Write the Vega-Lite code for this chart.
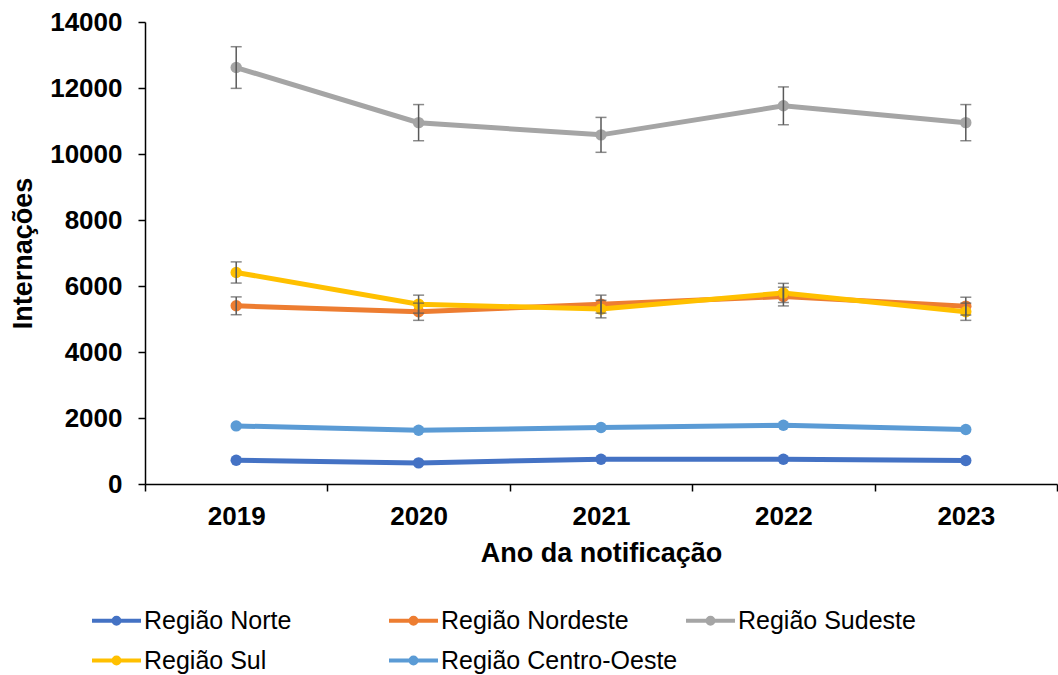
{
  "$schema": "https://vega.github.io/schema/vega-lite/v6.json",
  "width": 912,
  "height": 462,
  "autosize": {"type": "none"},
  "padding": {"left": 145, "top": 22, "right": 1, "bottom": 191},
  "background": "white",
  "config": {
    "font": "Liberation Sans",
    "view": {"stroke": null},
    "axis": {
      "labelFont": "Liberation Sans",
      "titleFont": "Liberation Sans",
      "labelFontWeight": "bold",
      "titleFontWeight": "bold",
      "labelColor": "#000000",
      "titleColor": "#000000",
      "domainColor": "#000000",
      "tickColor": "#000000",
      "domainWidth": 1.5,
      "tickWidth": 1.5,
      "grid": false
    }
  },
  "datasets": {
    "series": [
      {"region": "Região Norte", "year": "2019", "value": 720},
      {"region": "Região Norte", "year": "2020", "value": 640},
      {"region": "Região Norte", "year": "2021", "value": 750},
      {"region": "Região Norte", "year": "2022", "value": 750},
      {"region": "Região Norte", "year": "2023", "value": 710},
      {"region": "Região Nordeste", "year": "2019", "value": 5400},
      {"region": "Região Nordeste", "year": "2020", "value": 5220},
      {"region": "Região Nordeste", "year": "2021", "value": 5450},
      {"region": "Região Nordeste", "year": "2022", "value": 5680},
      {"region": "Região Nordeste", "year": "2023", "value": 5390},
      {"region": "Região Sudeste", "year": "2019", "value": 12620},
      {"region": "Região Sudeste", "year": "2020", "value": 10950},
      {"region": "Região Sudeste", "year": "2021", "value": 10580},
      {"region": "Região Sudeste", "year": "2022", "value": 11460},
      {"region": "Região Sudeste", "year": "2023", "value": 10950},
      {"region": "Região Sul", "year": "2019", "value": 6410},
      {"region": "Região Sul", "year": "2020", "value": 5450},
      {"region": "Região Sul", "year": "2021", "value": 5300},
      {"region": "Região Sul", "year": "2022", "value": 5790},
      {"region": "Região Sul", "year": "2023", "value": 5220},
      {"region": "Região Centro-Oeste", "year": "2019", "value": 1760},
      {"region": "Região Centro-Oeste", "year": "2020", "value": 1630},
      {"region": "Região Centro-Oeste", "year": "2021", "value": 1710},
      {"region": "Região Centro-Oeste", "year": "2022", "value": 1780},
      {"region": "Região Centro-Oeste", "year": "2023", "value": 1650}
    ],
    "err": [
      {"region": "Região Nordeste", "year": "2019", "lo": 5130, "hi": 5670},
      {"region": "Região Nordeste", "year": "2020", "lo": 4959, "hi": 5481},
      {"region": "Região Nordeste", "year": "2021", "lo": 5177, "hi": 5723},
      {"region": "Região Nordeste", "year": "2022", "lo": 5396, "hi": 5964},
      {"region": "Região Nordeste", "year": "2023", "lo": 5120, "hi": 5660},
      {"region": "Região Sudeste", "year": "2019", "lo": 11989, "hi": 13251},
      {"region": "Região Sudeste", "year": "2020", "lo": 10402, "hi": 11498},
      {"region": "Região Sudeste", "year": "2021", "lo": 10051, "hi": 11109},
      {"region": "Região Sudeste", "year": "2022", "lo": 10887, "hi": 12033},
      {"region": "Região Sudeste", "year": "2023", "lo": 10402, "hi": 11498},
      {"region": "Região Sul", "year": "2019", "lo": 6089, "hi": 6731},
      {"region": "Região Sul", "year": "2020", "lo": 5177, "hi": 5723},
      {"region": "Região Sul", "year": "2021", "lo": 5035, "hi": 5565},
      {"region": "Região Sul", "year": "2022", "lo": 5500, "hi": 6080},
      {"region": "Região Sul", "year": "2023", "lo": 4959, "hi": 5481}
    ]
  },
  "layer": [
    {
      "data": {"name": "series"},
      "mark": {"type": "line", "strokeWidth": 5, "point": {"filled": true, "size": 130, "opacity": 1}},
      "encoding": {
        "x": {
          "field": "year",
          "type": "ordinal",
          "title": "Ano da notificação",
          "scale": {"paddingInner": 0, "paddingOuter": 0},
          "axis": {
            "labelAngle": 0,
            "labelFontSize": 26,
            "titleFontSize": 27,
            "tickBand": "extent",
            "tickSize": 7,
            "labelPadding": 12,
            "titlePadding": 11
          }
        },
        "y": {
          "field": "value",
          "type": "quantitative",
          "title": "Internações",
          "scale": {"domain": [0, 14000], "nice": false},
          "axis": {
            "values": [0, 2000, 4000, 6000, 8000, 10000, 12000, 14000],
            "format": "d",
            "labelFontSize": 26,
            "titleFontSize": 27,
            "tickSize": 7,
            "labelPadding": 16,
            "titlePadding": 12
          }
        },
        "color": {
          "field": "region",
          "type": "nominal",
          "scale": {
            "domain": ["Região Norte", "Região Nordeste", "Região Sudeste", "Região Sul", "Região Centro-Oeste"],
            "range": ["#4472C4", "#ED7D31", "#A5A5A5", "#FFC000", "#5B9BD5"]
          },
          "legend": {
            "title": null,
            "orient": "none",
            "legendX": -55,
            "legendY": 572,
            "direction": "horizontal",
            "columns": 3,
            "gridAlign": "all",
            "columnPadding": 0,
            "rowPadding": -8,
            "symbolType": "M-1,0H1M-0.12,0A0.12,0.12 0 1,1 0.12,0A0.12,0.12 0 1,1 -0.12,0Z",
            "symbolSize": 2400,
            "symbolStrokeWidth": 4,
            "symbolOpacity": 1,
            "labelFontSize": 25,
            "labelFont": "Liberation Sans",
            "labelColor": "#000000",
            "labelOffset": 1,
            "labelLimit": 400,
            "encode": {
              "symbols": {
                "update": {
                  "fill": {"scale": "color", "field": "value"},
                  "stroke": {"scale": "color", "field": "value"}
                }
              }
            }
          }
        }
      }
    },
    {
      "data": {"name": "err"},
      "mark": {
        "type": "errorbar",
        "ticks": {"size": 11, "thickness": 1.5, "color": "#595959"},
        "rule": {"strokeWidth": 1.5, "color": "#595959"}
      },
      "encoding": {
        "x": {"field": "year", "type": "ordinal"},
        "y": {"field": "lo", "type": "quantitative", "title": "Internações"},
        "y2": {"field": "hi"}
      }
    }
  ]
}
